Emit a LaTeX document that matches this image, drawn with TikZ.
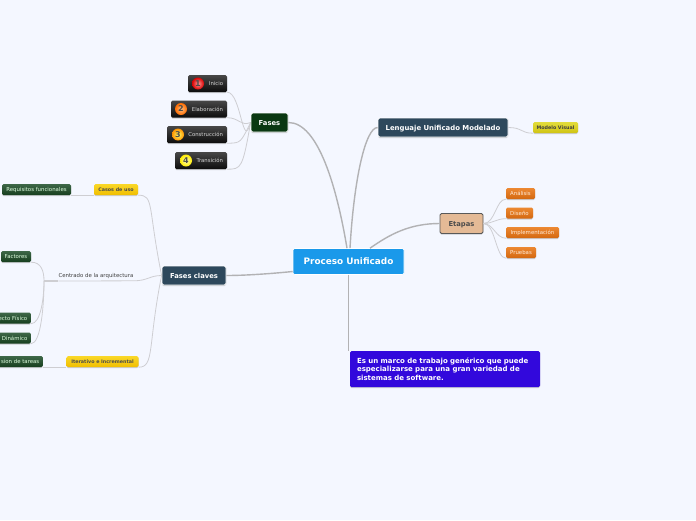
\documentclass[tikz,border=0pt]{standalone}
\usepackage{fontspec}
\setmainfont{DejaVu Sans}
\usetikzlibrary{shadows}
\definecolor{pagebg}{RGB}{244,247,255}
\definecolor{linkgray}{RGB}{178,178,180}
\definecolor{leafgray}{RGB}{206,206,210}
\definecolor{centralblue}{RGB}{26,153,234}
\definecolor{slateblue}{RGB}{45,72,92}
\definecolor{fasesgreen}{RGB}{10,56,18}
\definecolor{sandfill}{RGB}{228,186,150}
\definecolor{noteblue}{RGB}{50,8,220}
\definecolor{leafgreentop}{RGB}{62,104,72}
\definecolor{leafgreenlow}{RGB}{22,62,30}
\definecolor{goldtop}{RGB}{250,216,40}
\definecolor{goldlow}{RGB}{240,190,0}
\definecolor{olivetop}{RGB}{226,220,60}
\definecolor{olivelow}{RGB}{208,196,20}
\definecolor{ambertop}{RGB}{236,136,50}
\definecolor{amberlow}{RGB}{212,104,16}
\tikzset{
  shadowed/.style={drop shadow={shadow xshift=0pt,shadow yshift=-1.2pt,fill=black!45,opacity=.4}},
  mainbox/.style={rounded corners=1.5pt,draw=white,line width=.8pt,shadowed,font=\fontsize{6.8}{8}\selectfont\bfseries,text=white,inner sep=0pt,text height=5pt,text depth=0pt},
  leafbox/.style={rounded corners=1.5pt,shadowed,font=\fontsize{5.4}{6}\selectfont,text=white,inner sep=0pt,minimum height=11pt,text height=4pt,text depth=0pt},
  blackleaf/.style={leafbox,font=\fontsize{5.3}{6}\selectfont,minimum height=17pt,top color=black!72,bottom color=black!95,text=black!15,align=right,inner xsep=4pt},
  greenleaf/.style={leafbox,top color=leafgreentop,bottom color=leafgreenlow,text=white!88!green},
  yellowleaf/.style={leafbox,font=\fontsize{4.8}{6}\selectfont\bfseries,top color=goldtop,bottom color=goldlow,text=black!70},
  orangeleaf/.style={leafbox,top color=ambertop,bottom color=amberlow,text=white!85!orange},
  badge/.style={circle,inner sep=0pt,minimum size=12pt,font=\fontsize{8}{8}\selectfont\bfseries,text=black!70},
  biglink/.style={draw=linkgray,line width=1.4pt},
  thinlink/.style={draw=leafgray,line width=.8pt}
}
\begin{document}
\begin{tikzpicture}[x=1pt,y=-1pt]
\fill[pagebg] (0,0) rectangle (696,520);
\useasboundingbox (0,0) rectangle (696,520);
% Central topic
\node[rounded corners=1.5pt,fill=centralblue,draw=white,line width=.6pt,text=white,font=\fontsize{8.9}{10}\selectfont\bfseries,minimum width=111pt,minimum height=26pt,inner sep=0pt] (proceso) at (348.5,261.5) {Proceso Unificado};
% Fases
\node[mainbox,fill=fasesgreen,minimum width=37pt,minimum height=19pt] (fases) at (269.5,122.5) {Fases};
\node[blackleaf,text width=31pt] (inicio) at (207.5,83.5) {Inicio};
\node[blackleaf,text width=48pt] (elaboracion) at (199,109) {Elaboración};
\node[blackleaf,text width=52pt] (construccion) at (197,134.5) {Construcción};
\node[blackleaf,text width=44pt] (transicion) at (201,160.5) {Transición};
\node[badge,inner color=red!40!white,outer color=red!85!black] (uno) at (198,83.5) {1};
\node[badge,inner color=orange!50!white,outer color=orange!85!red] (dos) at (181,109) {2};
\node[badge,inner color=yellow!60!white,outer color=orange!85!yellow] (tres) at (178,134.5) {3};
\node[badge,inner color=yellow!30!white,outer color=yellow!85!orange] (cuatro) at (186,160.5) {4};
\draw[thinlink] (inicio.south east) .. controls +(14,0) and +(-8,30) .. (fases.west);
\draw[thinlink] (elaboracion.south east) .. controls +(12,0) and +(-10,4) .. (fases.west);
\draw[thinlink] (construccion.south east) .. controls +(14,0) and +(-10,20) .. (fases.west);
\draw[thinlink] (transicion.south east) .. controls +(14,0) and +(-8,46) .. (fases.west);
% Lenguaje
\node[mainbox,font=\fontsize{6.9}{8}\selectfont\bfseries,fill=slateblue,minimum width=130pt,minimum height=19pt] (lenguaje) at (443,127.5) {Lenguaje Unificado Modelado};
\node[leafbox,font=\fontsize{4.8}{6}\selectfont\bfseries,top color=olivetop,bottom color=olivelow,text=black!75,minimum width=45pt] (modelo) at (555.5,127.5) {Modelo Visual};
\draw[thinlink] (lenguaje.east) .. controls +(14,0) and +(-12,0) .. (modelo.south west);
% Etapas
\node[mainbox,fill=sandfill,draw=black!65,text=black!70,minimum width=43pt,minimum height=20pt] (etapas) at (461.5,223.5) {Etapas};
\node[orangeleaf,minimum width=29pt] (analisis) at (520.5,193.5) {Análisis};
\node[orangeleaf,minimum width=27pt] (diseno) at (519.5,213) {Diseño};
\node[orangeleaf,minimum width=53pt] (implementacion) at (532.5,232.5) {Implementación};
\node[orangeleaf,minimum width=30pt] (pruebas) at (521,252.5) {Pruebas};
\draw[thinlink] (etapas.east) .. controls +(12,0) and +(-10,0) .. (analisis.south west);
\draw[thinlink] (etapas.east) .. controls +(10,0) and +(-10,0) .. (diseno.south west);
\draw[thinlink] (etapas.east) .. controls +(10,0) and +(-10,0) .. (implementacion.south west);
\draw[thinlink] (etapas.east) .. controls +(12,0) and +(-10,0) .. (pruebas.south west);
% Nota
\node[rounded corners=1.5pt,fill=noteblue,shadowed,text=white,font=\fontsize{7}{8.4}\selectfont\bfseries,minimum width=190pt,minimum height=36pt,inner sep=0pt,text width=176pt,align=left] (nota) at (445,369) {Es un marco de trabajo genérico que puede\\especializarse para una gran variedad de\\sistemas de software.};
% Fases claves
\node[mainbox,fill=slateblue,minimum width=64pt,minimum height=19pt] (claves) at (194,275.5) {Fases claves};
\node[yellowleaf,minimum width=44pt] (casos) at (116,189.5) {Casos de uso};
\node[greenleaf,minimum width=69pt] (requisitos) at (36.5,189.5) {Requisitos funcionales};
\node[font=\fontsize{5.4}{6}\selectfont,text=black!75,inner xsep=0pt,inner ysep=2pt] (centrado) at (96,276) {Centrado de la arquitectura};
\coordinate (cruce) at (44,281);
\node[greenleaf,minimum width=30pt] (factores) at (16,256.5) {Factores};
\node[greenleaf,anchor=east,inner xsep=3.5pt] (fisico) at (31,318) {ecto Físico};
\node[greenleaf,anchor=east,inner xsep=3.5pt] (dinamico) at (31,338) {Dinámico};
\node[yellowleaf,minimum width=72pt] (iterativo) at (102.5,361.5) {Iterativo e Incremental};
\node[greenleaf,anchor=east,inner xsep=3.5pt] (tareas) at (43,361.5) {sion de tareas};
\draw[thinlink] (casos.south east) .. controls +(16,0) and +(-14,-70) .. (claves.west);
\draw[thinlink,line width=1.3pt] (cruce) -- (cruce -| centrado.south west);
\draw[thinlink] (cruce -| centrado.south west) -- (centrado.south east) .. controls +(14,0) and +(-12,0) .. (claves.west);
\draw[thinlink] (iterativo.south east) .. controls +(16,0) and +(-14,70) .. (claves.west);
\draw[thinlink] (requisitos.south east) -- (casos.south west);
\draw[thinlink] (tareas.south east) -- (iterativo.south west);
\draw[thinlink] (factores.south east) .. controls +(10,0) and +(0,-10) .. (cruce);
\draw[thinlink] (fisico.south east) .. controls +(10,0) and +(0,16) .. (cruce);
\draw[thinlink] (dinamico.south east) .. controls +(10,0) and +(0,24) .. (cruce);
% Main branches
\draw[biglink] (proceso.north) ++(-1.5,0) .. controls +(-10,-60) and +(30,0) .. (fases.east);
\draw[biglink] (proceso.north) ++(1.5,0) .. controls +(4,-70) and +(-12,0) .. (lenguaje.west);
\draw[biglink] (proceso.north) ++(21.5,0) .. controls +(20,-14) and +(-30,0) .. (etapas.west);
\draw[biglink] (proceso.west) ++(0,10) .. controls +(-20,2) and +(20,0) .. (claves.east);
\draw[biglink] (proceso.south) -- (proceso.south |- nota.north);
\end{tikzpicture}
\end{document}
